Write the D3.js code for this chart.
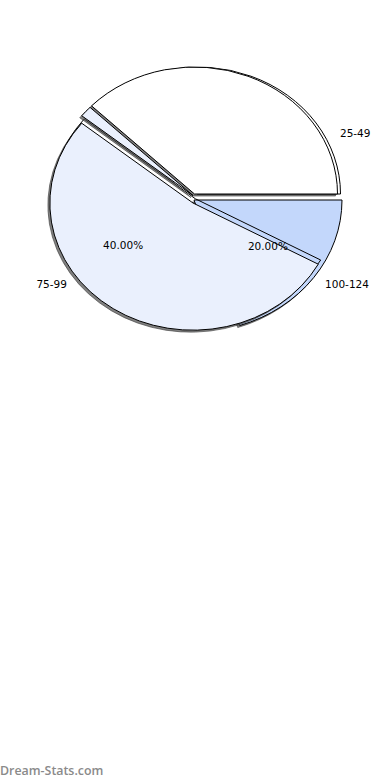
<!DOCTYPE html>
<html>
<head>
<meta charset="utf-8">
<script src="https://cdn.jsdelivr.net/npm/d3@7"></script>
<style>
  html, body { margin: 0; padding: 0; background: #fff; }
  svg { display: block; }
</style>
</head>
<body>
<svg id="chart" width="390" height="780"></svg>
<script>
// Age bands in drawing order (wedges run counter-clockwise from 3 o'clock,
// the last band sweeps clockwise from 3 o'clock and sits underneath).
const categories = ['25-49', '50-74', '75-99', '100-124'];
const outerLabels = ['25-49', '', '75-99', '100-124'];
const sweeps = [37.8, 1.4, 52.8, 20.0];          // share of a full turn, %
const pctLabels = ['', '', '40.00%', '20.00%'];
const labelAngles = [27, null, 217, 323];          // degrees, CCW from 3 o'clock
const pctAngles = [null, null, 216, 323];

const colors = ['#ffffff', '#eaf0fd', '#eaf0fd', '#c3d7fb'];
// wedge centre offsets from the pie centre, px
const shifts = [[-1.5, -4], [-3, -2.5], [-3, 5], [-2, 2]];
// extra radius per wedge, px
const grow = [0, 0, 0, 5];
// outline rims drawn just behind the front face, px
const rims = [[3, 0], null, [2.4, -4.2], null];

const svg = d3.select('#chart');
const cx = 196, cy = 198, rx = 143, ry = 127;

// Build wedge extents (math degrees).
const wedges = [];
let start = 0;
for (let i = 0; i < 3; i++) {
  const t0 = start, t1 = start + sweeps[i] * 3.6;
  wedges.push({ i, t0, t1 });
  start = t1;
}
wedges.push({ i: 3, t0: -sweeps[3] * 3.6, t1: 0 });

const rad = d => d * Math.PI / 180;
const arc = d3.arc().innerRadius(0).outerRadius(1);
const pathFor = w => arc({ startAngle: rad(90 - w.t1), endAngle: rad(90 - w.t0) });

// Paint order: blue band, large band, 25-49, thin band.
const order = [3, 2, 0, 1];
const g = svg.append('g');

function wedge(w, x, y, fill, stroke, fillOpacity) {
  const k = grow[w.i];
  return g.append('path')
    .attr('d', pathFor(w))
    .attr('transform', `translate(${x},${y}) scale(${rx + k},${ry + k})`)
    .attr('fill', fill)
    .attr('fill-opacity', fillOpacity)
    .attr('stroke', stroke)
    .attr('stroke-width', 1)
    .attr('stroke-linejoin', 'miter')
    .attr('vector-effect', 'non-scaling-stroke');
}

order.forEach(idx => {
  const w = wedges.find(d => d.i === idx);
  const x = cx + shifts[idx][0], y = cy + shifts[idx][1];
  // drop shadow
  wedge(w, x - 2, y + 2, '#4a4a4a', 'rgba(60,60,60,0.6)', 0.7);
  // rim outline behind the face
  if (rims[idx]) wedge(w, x + rims[idx][0], y + rims[idx][1], 'none', '#000', 1);
  wedge(w, x, y, colors[idx], '#000', 1);
});

const font = 'DejaVu Sans, sans-serif';

// Category labels
categories.forEach((c, i) => {
  if (!outerLabels[i]) return;
  const a = rad(labelAngles[i]);
  svg.append('text')
    .attr('x', cx + 1.13 * rx * Math.cos(a))
    .attr('y', cy - 1.13 * ry * Math.sin(a))
    .attr('text-anchor', Math.cos(a) > 0 ? 'start' : 'end')
    .attr('dominant-baseline', 'central')
    .attr('font-family', font)
    .attr('font-size', 10.5)
    .attr('fill', '#000')
    .text(outerLabels[i]);
});

// Percentage labels
pctLabels.forEach((p, i) => {
  if (!p) return;
  const a = rad(pctAngles[i]);
  svg.append('text')
    .attr('x', cx + 0.63 * rx * Math.cos(a))
    .attr('y', cy - 0.63 * ry * Math.sin(a))
    .attr('text-anchor', 'middle')
    .attr('dominant-baseline', 'central')
    .attr('font-family', font)
    .attr('font-size', 10.5)
    .attr('fill', '#000')
    .text(p);
});

// Site mark
svg.append('text')
  .attr('x', 0).attr('y', 775)
  .attr('font-family', 'Open Sans, sans-serif')
  .attr('font-weight', 600)
  .attr('font-size', 12.4)
  .attr('fill', '#8a8a8a')
  .text('Dream-Stats.com');
</script>
</body>
</html>
